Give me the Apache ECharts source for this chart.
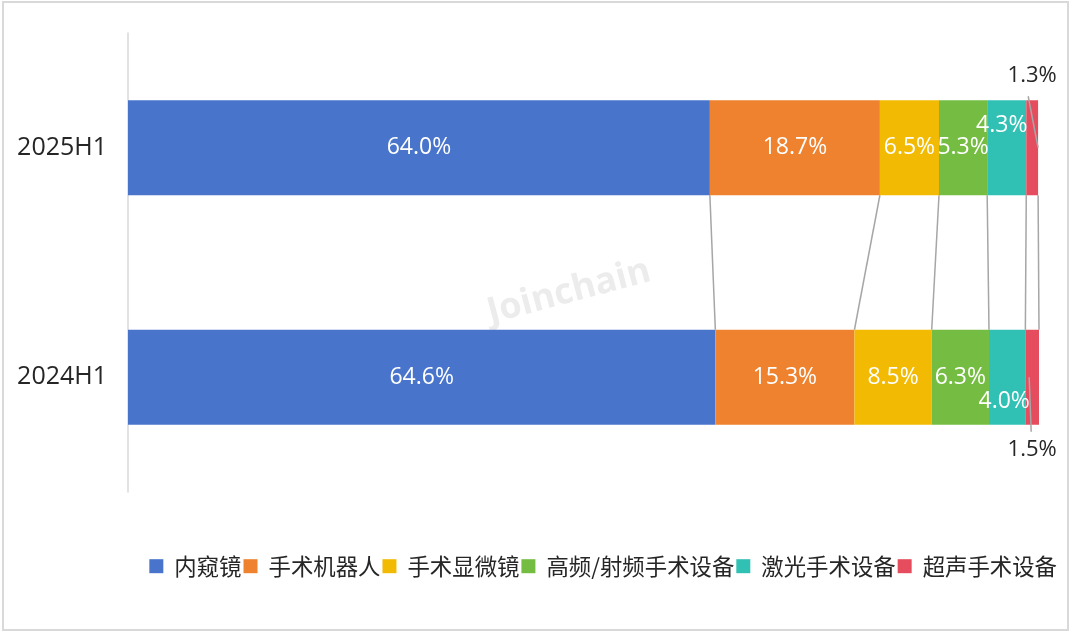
<!DOCTYPE html>
<html><head><meta charset="utf-8">
<script src="https://cdn.jsdelivr.net/npm/echarts@6/dist/echarts.min.js"></script>
<style>html,body{margin:0;padding:0;background:#fff}#c{width:1072px;height:634px}</style>
</head><body><div id="c"></div>
<script>
const categories = ['2024H1', '2025H1'];
const seriesNames = ['内窥镜', '手术机器人', '手术显微镜', '高频/射频手术设备', '激光手术设备', '超声手术设备'];
const colors = ['#4874CB', '#EE822F', '#F2BA02', '#75BD42', '#30C0B4', '#E54C5E'];
const v2024 = [64.6, 15.3, 8.5, 6.3, 4.0, 1.5];
const v2025 = [64.0, 18.7, 6.5, 5.3, 4.3, 1.3];

const FONT = '"Open Sans", "Noto Sans CJK SC", sans-serif';
const CJK = '"Noto Sans CJK SC", "Noto Sans", sans-serif';
const BAR_W = 95;

function cum(arr) { let s = 0; return arr.map(v => +(s += v).toFixed(2)); }
const c24 = cum(v2024), c25 = cum(v2025);
const total = Math.max(c24[c24.length - 1], c25[c25.length - 1]);

const barSeries = seriesNames.map((name, i) => ({
  name, type: 'bar', stack: 'all', barWidth: BAR_W,
  itemStyle: { color: colors[i] },
  label: {
    show: i < seriesNames.length - 1, position: 'inside', color: '#fff',
    fontSize: 23, fontFamily: FONT, formatter: p => p.value.toFixed(1) + '%'
  },
  data: [
    { value: v2024[i], label: i === 4 ? { offset: [-3, 24] } : {} },
    { value: v2025[i], label: i === 4 ? { offset: [-5, -22] } : {} }
  ]
}));

// connector lines between segment boundaries
const connectors = {
  type: 'custom', name: 'conn', silent: true, z: 1,
  coordinateSystem: 'cartesian2d',
  encode: { x: [0, 1], y: 2 },
  data: c25.map((v, i) => [v, c24[i], 0]),
  renderItem: (params, api) => {
    const pTop = api.coord([api.value(0), 1]);
    const pBot = api.coord([api.value(1), 0]);
    return {
      type: 'line',
      shape: { x1: pTop[0], y1: pTop[1] + BAR_W / 2, x2: pBot[0], y2: pBot[1] - BAR_W / 2 },
      style: { stroke: '#a6a6a6', lineWidth: 1.5 }
    };
  }
};

// outside labels with leader lines for the smallest segment
const last = seriesNames.length - 1;
const smallLabels = {
  type: 'custom', name: 'small', silent: true, z: 5,
  coordinateSystem: 'cartesian2d',
  encode: { x: [0, 1], y: 3 },
  data: [
    [c25[last - 1], c25[last], v2025[last], 1],
    [c24[last - 1], c24[last], v2024[last], 0]
  ],
  renderItem: (params, api) => {
    const start = api.value(0), end = api.value(1), val = api.value(2), ci = api.value(3);
    const mid = api.coord([(start + end) / 2, ci]);
    const right = api.coord([end, ci]);
    const top = ci === 1;
    const lx = mid[0];
    let line, ty;
    if (top) {
      line = { x1: lx - 4, y1: mid[1] - BAR_W / 2 - 4, x2: right[0], y2: mid[1] };
      ty = mid[1] - BAR_W / 2 - 25;
    } else {
      line = { x1: mid[0] - 3, y1: mid[1], x2: mid[0] - 1, y2: mid[1] + BAR_W / 2 + 7 };
      ty = mid[1] + BAR_W / 2 + 25;
    }
    return {
      type: 'group', children: [
        { type: 'line', shape: line, style: { stroke: '#a6a6a6', lineWidth: 1.5 } },
        { type: 'text', x: lx, y: ty, style: { text: val.toFixed(1) + '%', fill: '#262626', font: '22px ' + FONT, align: 'center', verticalAlign: 'middle' } }
      ]
    };
  }
};

const chart = echarts.init(document.getElementById('c'), null, { renderer: 'canvas' });
chart.setOption({
  backgroundColor: '#fff',
  animation: false,
  color: colors,
  grid: { left: 128, right: 33, top: 33, bottom: 142, containLabel: false },
  xAxis: { type: 'value', min: 0, max: total, show: false },
  yAxis: {
    type: 'category', data: categories,
    axisLine: { show: true, lineStyle: { color: '#d9d9d9', width: 1.5 } },
    axisTick: { show: false },
    axisLabel: { fontSize: 25, color: '#262626', fontFamily: FONT, margin: 21 }
  },
  legend: {
    data: seriesNames, right: 10, top: 550,
    itemWidth: 14, itemHeight: 14, itemGap: 2, icon: 'rect',
    textStyle: { fontSize: 22.4, color: '#262626', fontFamily: CJK, padding: [0, 0, 0, 6] }
  },
  graphic: [
    { type: 'rect', shape: { x: 3, y: 2, width: 1065, height: 628 }, style: { fill: 'none', stroke: '#d9d9d9', lineWidth: 2 }, z: -10 },
    { type: 'text', x: 569, y: 292, rotation: 0.26, z: -5,
      style: { text: 'Joinchain', fill: '#ececec', font: 'bold 36px "Open Sans", sans-serif', align: 'center', verticalAlign: 'middle' } }
  ],
  series: [...barSeries, connectors, smallLabels]
});
</script></body></html>
